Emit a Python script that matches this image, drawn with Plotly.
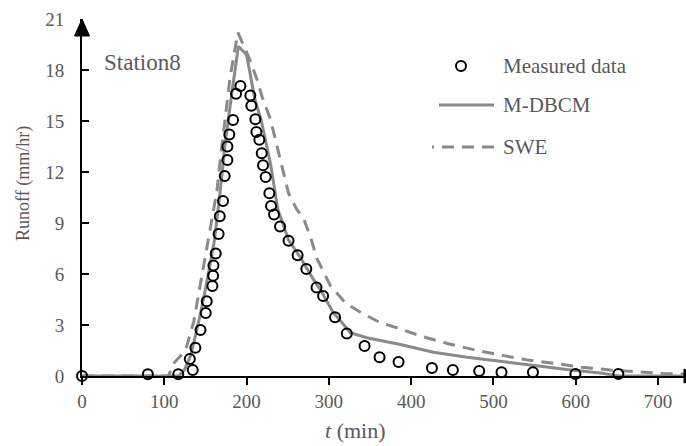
import plotly.graph_objects as go

# ---------------- data ----------------
measured_t = [0, 80, 117, 131, 134.6, 137.8, 144, 150.4, 151.6, 158.5, 159.3, 159.7, 162.5,
              166, 167.4, 171.4, 173.4, 176.7, 176.7, 179, 183.6, 187.2, 192.5, 204.6, 205.8,
              210.7, 211.9, 215.5, 218.4, 220, 223.2, 227.7, 229.7, 233.4, 240.7, 251, 262,
              272.6, 285, 293, 307.5, 321.8, 343.4, 361.6, 384.7, 425.3, 450.7, 482.7, 509.8,
              548, 599.6, 651.8]
measured_v = [0, 0.1, 0.1, 1.0, 0.35, 1.66, 2.7, 3.7, 4.4, 5.3, 5.9, 6.5, 7.2,
              8.35, 9.4, 10.3, 11.76, 12.7, 13.5, 14.2, 15.06, 16.6, 17.06, 16.5, 15.9,
              15.1, 14.35, 13.9, 13.1, 12.4, 11.7, 10.75, 10.0, 9.5, 8.8, 7.96, 7.1,
              6.3, 5.2, 4.7, 3.45, 2.5, 1.76, 1.1, 0.82, 0.47, 0.35, 0.29, 0.22,
              0.22, 0.12, 0.12]

mdbcm_t = [0, 118, 125, 132, 140, 148, 155, 161, 168, 174, 182, 190, 200, 205, 210, 218,
           229, 238, 251, 265, 281, 290, 305, 315, 326, 346, 387, 427, 468, 508, 548, 589,
           630, 652, 735]
mdbcm_v = [0, 0, 0.4, 1.2, 2.8, 4.6, 6.4, 8.0, 10.9, 13.7, 16.6, 19.4, 18.9, 17.5, 16.3, 15.0,
           12.5, 9.8, 8.0, 7.0, 5.7, 5.06, 3.75, 3.2, 2.55, 2.25, 1.85, 1.4, 1.1, 0.87, 0.62, 0.38,
           0.18, 0, 0]

swe_t = [0, 105, 111.5, 125.7, 135.8, 142, 148, 154, 164, 168, 175.5, 180, 189.5, 204, 213,
         219, 229, 233, 243, 251, 261, 269, 277.5, 285.6, 302, 320, 340, 362, 385, 415, 445,
         480, 512, 540, 575, 607, 642, 672, 706, 735]
swe_v = [0, 0, 0.75, 1.5, 3.2, 4.9, 6.5, 8.0, 10.9, 12.7, 15.6, 17.6, 20.2, 18.6, 17.4,
         16.4, 15.1, 14.3, 12.3, 10.75, 9.8, 9.3, 8.2, 6.9, 5.3, 4.3, 3.7, 3.15, 2.8, 2.3, 1.9,
         1.5, 1.2, 0.95, 0.74, 0.52, 0.35, 0.25, 0.15, 0.1]

x_ticks = [0, 100, 200, 300, 400, 500, 600, 700]
y_ticks = [0, 3, 6, 9, 12, 15, 18, 21]

series_names = ["Measured data", "M-DBCM", "SWE"]
station_label = "Station8"

# ---------------- style ----------------
FONT = "Liberation Serif"
TXT = "#595959"
LINE_GRAY = "#8a8a8a"
DASH = "12px,8px"

W, H = 686, 446
ML, MR, MT, MB = 82, 0, 19, 70
PW, PH = W - ML - MR, H - MT - MB


def px(xp):
    return (xp - ML) / PW


def py(yp):
    return (H - MB - yp) / PH


fig = go.Figure()
fig.add_trace(go.Scatter(x=swe_t, y=swe_v, mode="lines", name=series_names[2],
                         line=dict(color=LINE_GRAY, width=3, dash=DASH)))
fig.add_trace(go.Scatter(x=mdbcm_t, y=mdbcm_v, mode="lines", name=series_names[1],
                         line=dict(color=LINE_GRAY, width=3)))
fig.add_trace(go.Scatter(x=measured_t, y=measured_v, mode="markers", name=series_names[0],
                         cliponaxis=False,
                         marker=dict(symbol="circle-open", size=10, color="black",
                                     line=dict(color="black", width=2))))

shapes = []
annotations = []

# y-axis arrow head (top)
ax0 = 0.0
hw = 7.5 / PW
shapes.append(dict(type="path", xref="paper", yref="paper",
                   path=f"M {ax0 - hw},{py(36)} L {ax0 + hw},{py(36)} L {ax0},{py(19)} Z",
                   fillcolor="black", line=dict(color="black", width=1)))
# x-axis arrow head (right, mostly outside view)
shapes.append(dict(type="path", xref="paper", yref="paper",
                   path=f"M {px(684)},{py(369)} L {px(684)},{py(383)} L {px(700)},{py(376)} Z",
                   fillcolor="black", line=dict(color="black", width=1)))

# manual legend
shapes.append(dict(type="circle", xref="paper", yref="paper", xsizemode="pixel", ysizemode="pixel",
                   xanchor=px(461), yanchor=py(66), x0=-5, x1=5, y0=-5, y1=5,
                   line=dict(color="black", width=2)))
shapes.append(dict(type="line", xref="paper", yref="paper", x0=px(439), x1=px(494),
                   y0=py(105), y1=py(105), line=dict(color=LINE_GRAY, width=3)))
shapes.append(dict(type="line", xref="paper", yref="paper", x0=px(494), x1=px(432),
                   y0=py(147), y1=py(147), line=dict(color=LINE_GRAY, width=3, dash=DASH)))

for name, yy in zip(series_names, [66, 105, 147]):
    annotations.append(dict(text=name, xref="paper", yref="paper", x=px(501), y=py(yy),
                            xanchor="left", yanchor="middle", showarrow=False,
                            font=dict(family=FONT, size=21, color=TXT)))

annotations.append(dict(text=station_label, xref="paper", yref="paper", x=px(102), y=py(62),
                        xanchor="left", yanchor="middle", showarrow=False,
                        font=dict(family=FONT, size=23, color=TXT)))
annotations.append(dict(text="<i>t</i> (min)", xref="paper", yref="paper", x=px(355), y=py(431),
                        xanchor="center", yanchor="middle", showarrow=False,
                        font=dict(family=FONT, size=22, color=TXT)))
annotations.append(dict(text="Runoff (mm/hr)", xref="paper", yref="paper", x=px(23), y=py(184),
                        xanchor="center", yanchor="middle", showarrow=False, textangle=-90,
                        font=dict(family=FONT, size=18, color=TXT)))

fig.update_layout(
    width=W, height=H,
    margin=dict(l=ML, r=MR, t=MT, b=MB, pad=0),
    paper_bgcolor="white", plot_bgcolor="white",
    showlegend=False,
    font=dict(family=FONT, size=19, color=TXT),
    shapes=shapes, annotations=annotations,
    xaxis=dict(range=[0, 734], tickvals=x_ticks, ticktext=[str(v) for v in x_ticks],
               showgrid=False, zeroline=False, showline=True, linecolor="black", linewidth=2,
               ticks="outside", ticklen=7, tickwidth=2, tickcolor="black",
               layer="below traces", tickfont=dict(family=FONT, size=19, color=TXT)),
    yaxis=dict(range=[0, 21], tickvals=y_ticks, ticktext=[str(v) for v in y_ticks],
               showgrid=False, zeroline=False, showline=True, linecolor="black", linewidth=2,
               ticks="inside", ticklen=7, tickwidth=2, tickcolor="black",
               ticklabelstandoff=12,
               layer="below traces", tickfont=dict(family=FONT, size=19, color=TXT)),
)

fig.write_html("out.html")
